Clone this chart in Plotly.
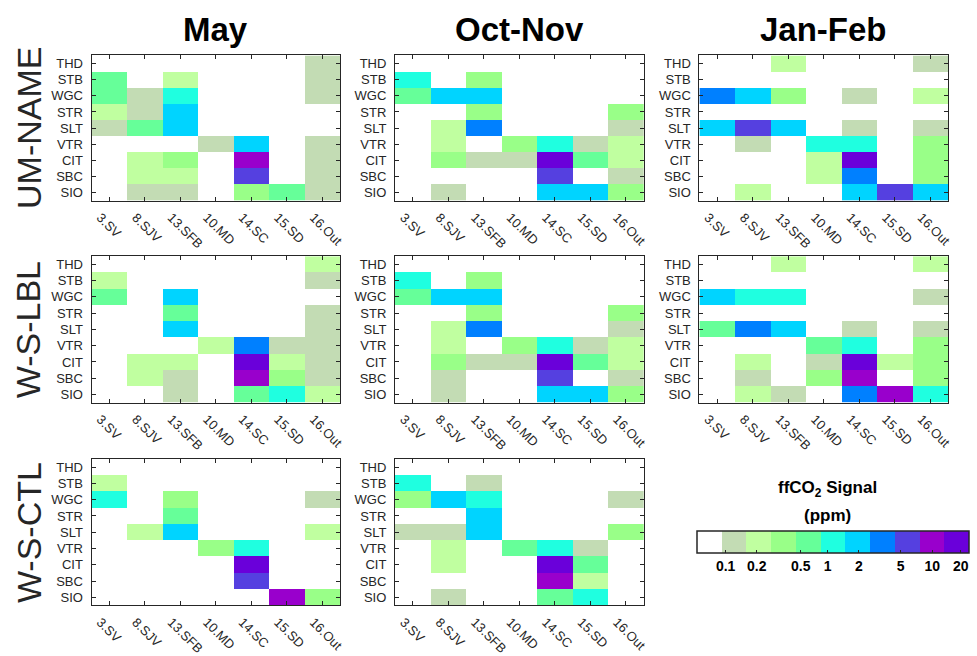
import plotly.graph_objects as go

# Receptor sites (rows, top to bottom) and source regions (columns)
sites = ["THD", "STB", "WGC", "STR", "SLT", "VTR", "CIT", "SBC", "SIO"]
regions = ["3.SV", "8.SJV", "13.SFB", "10.MD", "14.SC", "15.SD", "16.Out"]
seasons = ["May", "Oct-Nov", "Jan-Feb"]
experiments = ["UM-NAME", "W-S-LBL", "W-S-CTL"]

# ffCO2 signal class per cell (0 = below 0.1 ppm ... 10 = above 20 ppm)
um_name_may = [
    [0, 0, 0, 0, 0, 0, 1],
    [4, 0, 2, 0, 0, 0, 1],
    [4, 1, 5, 0, 0, 0, 1],
    [2, 1, 6, 0, 0, 0, 0],
    [1, 4, 6, 0, 0, 0, 0],
    [0, 0, 0, 1, 6, 0, 1],
    [0, 2, 3, 0, 9, 0, 1],
    [0, 2, 2, 0, 8, 0, 1],
    [0, 1, 1, 0, 3, 4, 1],
]
um_name_octnov = [
    [0, 0, 0, 0, 0, 0, 0],
    [5, 0, 3, 0, 0, 0, 0],
    [4, 6, 6, 0, 0, 0, 0],
    [0, 0, 3, 0, 0, 0, 3],
    [0, 2, 7, 0, 0, 0, 1],
    [0, 2, 0, 3, 5, 1, 2],
    [0, 3, 1, 1, 10, 4, 2],
    [0, 0, 0, 0, 8, 0, 1],
    [0, 1, 0, 0, 6, 6, 3],
]
um_name_janfeb = [
    [0, 0, 2, 0, 0, 0, 1],
    [0, 0, 0, 0, 0, 0, 0],
    [7, 6, 3, 0, 1, 0, 2],
    [0, 0, 0, 0, 0, 0, 0],
    [6, 8, 6, 0, 1, 0, 1],
    [0, 1, 0, 5, 5, 0, 3],
    [0, 0, 0, 2, 10, 0, 3],
    [0, 0, 0, 2, 7, 0, 3],
    [0, 2, 0, 0, 6, 8, 6],
]
ws_lbl_may = [
    [0, 0, 0, 0, 0, 0, 2],
    [2, 0, 0, 0, 0, 0, 1],
    [4, 0, 6, 0, 0, 0, 0],
    [0, 0, 4, 0, 0, 0, 1],
    [0, 0, 6, 0, 0, 0, 1],
    [0, 0, 0, 2, 7, 1, 1],
    [0, 2, 2, 0, 10, 2, 1],
    [0, 2, 1, 0, 9, 3, 1],
    [0, 0, 1, 0, 4, 5, 2],
]
ws_lbl_octnov = [
    [0, 0, 0, 0, 0, 0, 0],
    [5, 0, 3, 0, 0, 0, 0],
    [4, 6, 6, 0, 0, 0, 0],
    [0, 0, 3, 0, 0, 0, 3],
    [0, 2, 7, 0, 0, 0, 1],
    [0, 2, 0, 3, 5, 1, 2],
    [0, 3, 1, 1, 10, 4, 2],
    [0, 1, 0, 0, 8, 0, 1],
    [0, 1, 0, 0, 6, 6, 3],
]
ws_lbl_janfeb = [
    [0, 0, 2, 0, 0, 0, 2],
    [0, 0, 0, 0, 0, 0, 0],
    [6, 5, 5, 0, 0, 0, 1],
    [0, 0, 0, 0, 0, 0, 0],
    [4, 7, 6, 0, 1, 0, 1],
    [0, 0, 0, 4, 5, 0, 3],
    [0, 2, 0, 1, 10, 2, 3],
    [0, 1, 0, 3, 9, 0, 3],
    [0, 2, 1, 0, 7, 9, 5],
]
ws_ctl_may = [
    [0, 0, 0, 0, 0, 0, 0],
    [2, 0, 0, 0, 0, 0, 0],
    [5, 0, 3, 0, 0, 0, 1],
    [0, 0, 4, 0, 0, 0, 0],
    [0, 2, 6, 0, 0, 0, 2],
    [0, 0, 0, 3, 5, 0, 0],
    [0, 0, 0, 0, 10, 0, 0],
    [0, 0, 0, 0, 8, 0, 0],
    [0, 0, 0, 0, 0, 9, 3],
]
ws_ctl_octnov = [
    [0, 0, 0, 0, 0, 0, 0],
    [5, 0, 1, 0, 0, 0, 0],
    [3, 6, 5, 0, 0, 0, 1],
    [0, 0, 6, 0, 0, 0, 0],
    [1, 1, 6, 0, 0, 0, 3],
    [0, 2, 0, 4, 5, 1, 0],
    [0, 2, 0, 0, 10, 4, 0],
    [0, 0, 0, 0, 9, 2, 0],
    [0, 1, 0, 0, 4, 5, 0],
]

# Colour of each signal class
class_colors = [
    "#ffffff", "#c3dcb4", "#c0ffa0", "#99ff88", "#66ff99", "#1fffe0",
    "#00d4ff", "#0080ff", "#5540e0", "#9900cc", "#6a00da",
]
cbar_labels = ["0.1", "0.2", "0.5", "1", "2", "5", "10", "20"]

panels = [
    (0, 0, um_name_may), (0, 1, um_name_octnov), (0, 2, um_name_janfeb),
    (1, 0, ws_lbl_may), (1, 1, ws_lbl_octnov), (1, 2, ws_lbl_janfeb),
    (2, 0, ws_ctl_may), (2, 1, ws_ctl_octnov),
]

W, H = 977, 656
col_px = [(92, 342), (397, 647), (703, 953)]
row_px = [(56, 203), (259, 407), (464, 612)]
axis_color = "#262626"
font_family = "Arial, Liberation Sans, sans-serif"

n = len(class_colors)
colorscale = []
for i, c in enumerate(class_colors):
    colorscale.append([i / n, c])
    colorscale.append([(i + 1) / n, c])

fig = go.Figure()
layout = {}
for k, (r, c, z) in enumerate(panels):
    idx = "" if k == 0 else str(k + 1)
    fig.add_trace(go.Heatmap(
        z=z, x=list(range(len(regions))), y=list(range(len(sites))),
        coloraxis="coloraxis", xaxis="x" + idx, yaxis="y" + idx,
        xgap=0, ygap=0, hoverongaps=False,
    ))
    x0, x1 = col_px[c]
    y0, y1 = row_px[r]
    common = dict(
        showline=True, linecolor=axis_color, linewidth=1, mirror="ticks",
        ticks="inside", ticklen=4, tickcolor=axis_color, tickwidth=1,
        showgrid=False, zeroline=False, fixedrange=True,
        tickfont=dict(size=13, color=axis_color, family=font_family),
    )
    layout["xaxis" + idx] = dict(
        domain=[x0 / W, x1 / W], anchor="y" + idx,
        range=[-0.5, len(regions) - 0.5],
        tickvals=list(range(len(regions))), ticktext=regions,
        tickangle=45, ticklabelshift=-9, ticklabelstandoff=3, **common,
    )
    layout["yaxis" + idx] = dict(
        domain=[1 - y1 / H, 1 - y0 / H], anchor="x" + idx,
        range=[len(sites) - 0.5, -0.5],
        tickvals=list(range(len(sites))), ticktext=sites,
        ticklabelstandoff=5, **common,
    )

annotations = []
for c, s in enumerate(seasons):
    annotations.append(dict(
        text="<b>%s</b>" % s, x=(col_px[c][0] + col_px[c][1]) / 2 / W,
        y=1 - 30 / H, xref="paper", yref="paper", showarrow=False,
        xanchor="center", yanchor="middle",
        font=dict(size=33, color="black", family=font_family),
    ))
for r, e in enumerate(experiments):
    annotations.append(dict(
        text=e, x=29 / W, y=1 - (row_px[r][0] + row_px[r][1]) / 2 / H,
        xref="paper", yref="paper", showarrow=False, textangle=-90,
        xanchor="center", yanchor="middle",
        font=dict(size=34, color=axis_color, family=font_family),
    ))
annotations.append(dict(
    text="<b>ffCO<sub>2</sub> Signal</b>", x=832 / W, y=1 - 494 / H,
    xref="paper", yref="paper", showarrow=False, xanchor="center",
    yanchor="middle", font=dict(size=17, color="black", family=font_family),
))
annotations.append(dict(
    text="<b>(ppm)</b>", x=832 / W, y=1 - 521 / H,
    xref="paper", yref="paper", showarrow=False, xanchor="center",
    yanchor="middle", font=dict(size=17, color="black", family=font_family),
))

fig.update_layout(
    width=W, height=H, margin=dict(l=0, r=0, t=0, b=0),
    paper_bgcolor="white", plot_bgcolor="white",
    font=dict(family=font_family),
    annotations=annotations,
    coloraxis=dict(
        colorscale=colorscale, cmin=-0.5, cmax=n - 0.5,
        colorbar=dict(
            orientation="h", x=837 / W, xanchor="center",
            y=1 - 537 / H, yanchor="top",
            lenmode="pixels", len=272, thicknessmode="pixels", thickness=22,
            outlinecolor=axis_color, outlinewidth=1.5,
            tickvals=[0.67, 1.93, 3.71, 4.79, 6.06, 7.75, 9.03, 10.18],
            ticktext=["<b>%s</b>" % t for t in cbar_labels],
            ticks="inside", ticklen=3, tickcolor=axis_color,
            tickfont=dict(size=14, color="black", family=font_family),
            xpad=0, ypad=0,
        ),
    ),
    **layout,
)

fig.write_html("out.html")
